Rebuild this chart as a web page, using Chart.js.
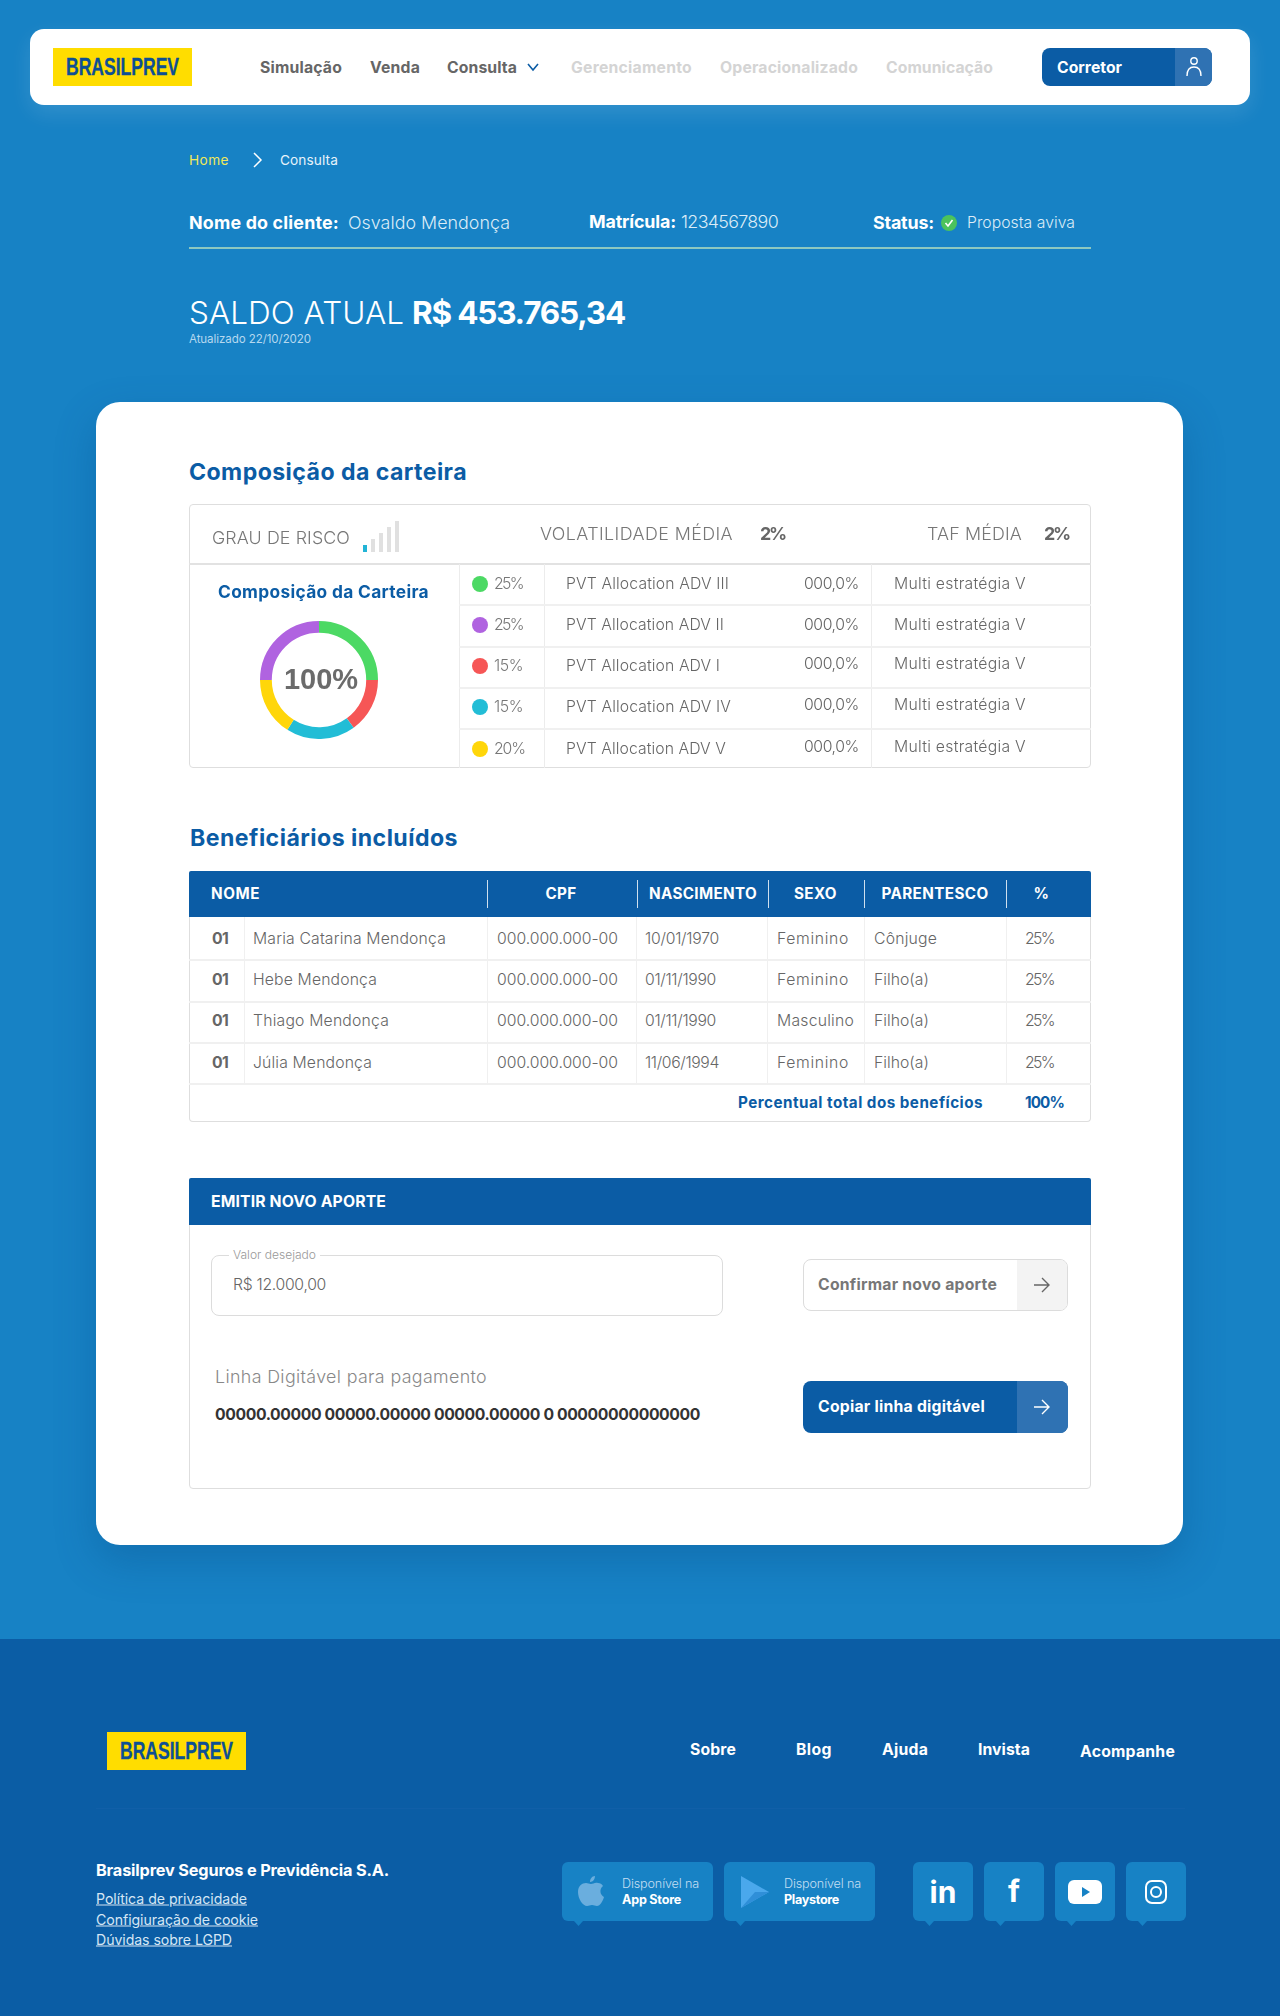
<!DOCTYPE html>
<html lang="pt-BR">
<head>
<meta charset="UTF-8">
<title>Brasilprev - Consulta</title>
<script src="https://cdn.jsdelivr.net/npm/chart.js"></script>
<style>
    html, body { margin: 0; padding: 0; }
    body {
        position: relative;
        width: 1280px;
        height: 2016px;
        overflow: hidden;
        background: #1782c5;
        font-family: Inter, "Noto Sans", sans-serif;
        color: #666;
    }
    .box { position: absolute; box-sizing: border-box; }
    .t { position: absolute; white-space: nowrap; transform: translateY(-50%); line-height: 1.2; }
    .c { transform: translate(-50%, -50%); }
    .b { font-weight: 700; }
    .card { background: #fff; }
    svg { position: absolute; overflow: visible; }
</style>
</head>
<body>
<div class="box" style="left:0;top:1639px;width:1280px;height:377px;background:#0b5da5"></div>
<div class="box card" style="left:30px;top:29px;width:1220px;height:76px;border-radius:14px;box-shadow:0 8px 22px rgba(255,255,255,.12)"></div>
<div class="box card" style="left:96px;top:402px;width:1087px;height:1143px;border-radius:24px;box-shadow:0 16px 40px rgba(8,70,130,.3)"></div>

<div class="box" style="left:260px;top:621px;width:118px;height:118px">
    <canvas id="carteira" width="118" height="118"></canvas>
</div>

<script>
// table and text data
const allocationShares = ['25%', '25%', '15%', '15%', '20%'];
const allocationNames = ['PVT Allocation ADV III', 'PVT Allocation ADV II', 'PVT Allocation ADV I', 'PVT Allocation ADV IV', 'PVT Allocation ADV V'];
const allocationRates = ['000,0%', '000,0%', '000,0%', '000,0%', '000,0%'];
const allocationTypes = ['Multi estratégia V', 'Multi estratégia V', 'Multi estratégia V', 'Multi estratégia V', 'Multi estratégia V'];
const allocationColors = ['#4cd964', '#b063e0', '#f65656', '#22bdd6', '#ffd60a'];

// ring as it is drawn, clockwise from the top
const ringLabels = ['PVT Allocation ADV III', 'PVT Allocation ADV I', 'PVT Allocation ADV IV', 'PVT Allocation ADV V', 'PVT Allocation ADV II'];
const ringValues = [25, 15, 19, 16, 25];
const ringColors = ['#4cd964', '#f65656', '#22bdd6', '#ffd60a', '#b063e0'];

const benefNames = ['Maria Catarina Mendonça', 'Hebe Mendonça', 'Thiago Mendonça', 'Júlia Mendonça'];
const benefBirth = ['10/01/1970', '01/11/1990', '01/11/1990', '11/06/1994'];
const benefSex = ['Feminino', 'Feminino', 'Masculino', 'Feminino'];
const benefKin = ['Cônjuge', 'Filho(a)', 'Filho(a)', 'Filho(a)'];
const benefCpf = '000.000.000-00';
const benefPct = '25%';
const benefHeaders = ['CPF', 'NASCIMENTO', 'SEXO', 'PARENTESCO', '%'];

const blue = '#0b5ca5';

function box(x, y, w, h, style) {
    const d = document.createElement('div');
    d.className = 'box';
    d.style.cssText = `left:${x}px;top:${y}px;width:${w}px;height:${h}px;` + (style || '');
    document.body.appendChild(d);
    return d;
}

// places a text by left edge and vertical centre; fit = width wanted in the picture
function put(text, x, y, size, color, opts) {
    opts = opts || {};
    const s = document.createElement('span');
    s.className = 't' + (opts.bold ? ' b' : '') + (opts.center ? ' c' : '');
    s.textContent = text;
    // Inter runs narrower than the font of the picture, so fitted texts go a little bigger
    const px = opts.fit ? size * 1.05 : size;
    s.style.cssText = `left:${x}px;top:${y}px;font-size:${px}px;color:${color};` + (opts.style || '');
    document.body.appendChild(s);
    if (opts.fit) {
        const extra = (opts.fit - s.getBoundingClientRect().width) / text.length;
        s.style.letterSpacing = extra.toFixed(3) + 'px';
    }
    if (opts.right) {
        s.style.left = (x - s.getBoundingClientRect().width) + 'px';
    }
    return s;
}

function icon(x, y, w, h, inner) {
    const ns = 'http://www.w3.org/2000/svg';
    const g = document.createElementNS(ns, 'svg');
    g.setAttribute('viewBox', `0 0 ${w} ${h}`);
    g.setAttribute('width', w);
    g.setAttribute('height', h);
    g.style.left = x + 'px';
    g.style.top = y + 'px';
    g.innerHTML = inner;
    document.body.appendChild(g);
}

function logo(x, y) {
    box(x, y, 139, 38, 'background:#ffdd00');
    const s = put('BRASILPREV', x + 13, y + 19, 24, '#0d4f94', {
        bold: true,
        style: 'font-family:"Liberation Sans";-webkit-text-stroke:.3px #0d4f94;transform-origin:left center;'
    });
    s.style.transform = `translateY(-50%) scaleX(${(113 / s.getBoundingClientRect().width).toFixed(3)})`;
}

// header
logo(53, 48);
put('Simulação', 260, 68, 15, '#666', { bold: true, fit: 82 });
put('Venda', 370, 68, 15, '#666', { bold: true, fit: 50 });
put('Consulta', 447, 68, 15, '#666', { bold: true, fit: 70 });
icon(527, 63, 12, 8, '<path d="M1 1l5 6 5-6" fill="none" stroke="#0b5ca5" stroke-width="1.6"/>');
put('Gerenciamento', 571, 68, 15, '#d4d4d4', { bold: true, fit: 121 });
put('Operacionalizado', 720, 68, 15, '#d4d4d4', { bold: true, fit: 138 });
put('Comunicação', 886, 68, 15, '#d4d4d4', { bold: true, fit: 107 });
box(1042, 48, 170, 38, `background:${blue};border-radius:8px;overflow:hidden`);
box(1175, 48, 37, 38, 'background:#2f72b3;border-radius:0 8px 8px 0');
put('Corretor', 1057, 68, 15, '#fff', { bold: true, fit: 65 });
icon(1185, 56, 18, 22, '<circle cx="9" cy="5" r="3.2" fill="none" stroke="#fff" stroke-width="1.4"/><path d="M2 20c0-6 3-9 7-9s7 3 7 9" fill="none" stroke="#fff" stroke-width="1.4"/>');

put('Home', 189, 160, 13, '#f0e85a', { fit: 40 });
icon(253, 152, 9, 16, '<path d="M1 1l7 7-7 7" fill="none" stroke="#fff" stroke-width="1.5"/>');
put('Consulta', 280, 160, 13, '#e6f2fa', { fit: 58 });

put('Nome do cliente:', 189, 223, 17, '#fff', { bold: true, fit: 150 });
put('Osvaldo Mendonça', 348, 223, 17, '#dcecf7', { fit: 162, style: 'font-weight:300;' });
put('Matrícula:', 589, 222, 17, '#fff', { bold: true, fit: 87 });
put('1234567890', 681, 222, 17, '#dcecf7', { fit: 97, style: 'font-weight:300;' });
put('Status:', 873, 223, 17, '#fff', { bold: true, fit: 61 });
icon(941, 215, 16, 16, '<circle cx="8" cy="8" r="8" fill="#4cc35c"/><path d="M4.5 8l2.5 3 4.5-6" fill="none" stroke="#fff" stroke-width="1.6"/>');
put('Proposta aviva', 967, 223, 15, '#dcecf7', { fit: 108, style: 'font-weight:300;' });
box(189, 247, 902, 1.5, 'background:#8dc8c0');

put('SALDO ATUAL', 189, 313, 30, '#fff', { fit: 215, style: 'font-weight:300;' });
put('R$ 453.765,34', 412, 313, 30, '#fff', { bold: true, fit: 213 });
put('Atualizado 22/10/2020', 189, 339.5, 11, '#b5d8ef', { fit: 122 });

// composicao da carteira
put('Composição da carteira', 189, 473, 22, blue, { bold: true, fit: 278 });
box(189, 504, 902, 264, 'border:1.5px solid #dedede;border-radius:4px');
box(189, 563, 902, 1.5, 'background:#e2e2e2');
[459, 544, 871].forEach(x => box(x, 564, 1, 204, 'background:#ececec'));
[604, 646, 687, 728].forEach(y => box(459, y, 632, 1.5, 'background:#f0f0f0'));

put('GRAU DE RISCO', 212, 538, 17, '#777', { fit: 138, style: 'font-weight:300;' });
box(363, 545, 4, 7, 'background:#22b4d6');
box(371, 539, 4, 13, 'background:#e0e0e0');
box(379, 533, 4, 19, 'background:#e0e0e0');
box(387, 527, 4, 25, 'background:#e0e0e0');
box(395, 521, 4, 31, 'background:#e0e0e0');
put('VOLATILIDADE MÉDIA', 540, 534, 17, '#777', { fit: 193, style: 'font-weight:300;' });
put('2%', 760, 534, 17, '#666', { bold: true, fit: 25 });
put('TAF MÉDIA', 927, 534, 17, '#777', { fit: 95, style: 'font-weight:300;' });
put('2%', 1044, 534, 17, '#666', { bold: true, fit: 25 });
put('Composição da Carteira', 218, 592, 16.5, blue, { bold: true, fit: 211 });
put('100%', 321, 679, 29, '#6b6b6b', { bold: true, center: true, style: 'font-family:"Liberation Sans";' });

const rowY = [584, 625, 666, 707, 749];
const rateY = [584, 625, 664, 705, 747];
allocationNames.forEach((name, i) => {
    box(472, rowY[i] - 8, 16, 16, `background:${allocationColors[i]};border-radius:50%`);
    put(allocationShares[i], 494, rowY[i], 15, '#777', { fit: i === 4 ? 31 : 29, style: 'font-weight:300;' });
    put(name, 566, rowY[i], 15, '#666', { fit: [163, 158, 154, 165, 160][i], style: 'font-weight:300;' });
    put(allocationRates[i], 859, rateY[i], 15, '#666', { fit: 55, right: true, style: 'font-weight:300;' });
    put(allocationTypes[i], 894, rateY[i], 15, '#666', { fit: 132, style: 'font-weight:300;' });
});

// beneficiarios
put('Beneficiários incluídos', 190, 839, 22, blue, { bold: true, fit: 268 });
box(189, 871, 902, 251, 'border:1.5px solid #dedede;border-top:0;border-radius:4px');
box(189, 871, 902, 46, `background:${blue};border-radius:2px 2px 0 0`);
[487, 637, 768, 864, 1006].forEach(x => box(x, 880, 1, 28, 'background:#cfe0ef'));
[244, 487, 636, 767, 864, 1006].forEach(x => box(x, 917, 1, 166, 'background:#f0f0f0'));
[959, 1001, 1042, 1083].forEach(y => box(189, y, 902, 1.5, 'background:#f0f0f0'));
put('NOME', 211, 894, 14.5, '#fff', { bold: true, fit: 49 });
[561, 703, 815.5, 935, 1040].forEach((x, i) => {
    put(benefHeaders[i], x, 894, 14.5, '#fff', { bold: true, center: true, fit: [31, 108, 43, 107, 13][i] });
});
const benefY = [939, 980, 1021, 1063];
benefNames.forEach((name, i) => {
    put('01', 212, benefY[i], 15, '#666', { bold: true, fit: 16 });
    put(name, 253, benefY[i], 15, '#666', { fit: [193, 124, 136, 119][i], style: 'font-weight:300;' });
    put(benefCpf, 497, benefY[i], 15, '#666', { fit: 121, style: 'font-weight:300;' });
    put(benefBirth[i], 645, benefY[i], 15, '#666', { fit: i === 1 || i === 2 ? 71 : 74, style: 'font-weight:300;' });
    put(benefSex[i], 777, benefY[i], 15, '#666', { fit: i === 2 ? 77 : 72, style: 'font-weight:300;' });
    put(benefKin[i], 874, benefY[i], 15, '#666', { fit: i === 0 ? 63 : 55, style: 'font-weight:300;' });
    put(benefPct, 1025, benefY[i], 15, '#666', { fit: 29, style: 'font-weight:300;' });
});
put('Percentual total dos benefícios', 738, 1103, 14.5, blue, { bold: true, fit: 245 });
put('100%', 1025, 1103, 14.5, blue, { bold: true, fit: 39 });

// novo aporte
box(189, 1178, 902, 311, 'border:1.5px solid #dedede;border-radius:4px');
box(189, 1178, 902, 47, `background:${blue};border-radius:2px 2px 0 0`);
put('EMITIR NOVO APORTE', 211, 1202, 15, '#fff', { bold: true, fit: 175 });
box(211, 1255, 512, 61, 'border:1.5px solid #dcdcdc;border-radius:8px');
box(229, 1250, 91, 10, 'background:#fff');
put('Valor desejado', 233, 1255, 11.5, '#999', { fit: 83, style: 'font-weight:300;' });
put('R$ 12.000,00', 233, 1285, 15, '#666', { fit: 93, style: 'font-weight:300;' });

box(803, 1259, 265, 52, 'border:1.5px solid #dcdcdc;border-radius:8px');
box(1017, 1260, 50, 50, 'background:#f3f3f3;border-radius:0 7px 7px 0');
put('Confirmar novo aporte', 818, 1285, 15, '#777', { bold: true, fit: 179 });
icon(1034, 1277, 16, 16, '<path d="M0 8h15M8 1l7 7-7 7" fill="none" stroke="#666" stroke-width="1.4"/>');

put('Linha Digitável para pagamento', 215, 1377, 17, '#888', { fit: 272, style: 'font-weight:300;' });
put('00000.00000 00000.00000 00000.00000 0 00000000000000', 215, 1415, 15, '#333', { bold: true, fit: 485 });

box(803, 1381, 265, 52, `background:${blue};border-radius:8px`);
box(1017, 1381, 51, 52, 'background:#2f72b3;border-radius:0 8px 8px 0');
put('Copiar linha digitável', 818, 1407, 15, '#fff', { bold: true, fit: 167 });
icon(1034, 1399, 16, 16, '<path d="M0 8h15M8 1l7 7-7 7" fill="none" stroke="#fff" stroke-width="1.4"/>');

// rodape
logo(107, 1732);
put('Sobre', 690, 1750, 15, '#fff', { bold: true, fit: 46 });
put('Blog', 796, 1750, 15, '#fff', { bold: true, fit: 36 });
put('Ajuda', 882, 1750, 15, '#fff', { bold: true, fit: 46 });
put('Invista', 978, 1750, 15, '#fff', { bold: true, fit: 52 });
put('Acompanhe', 1080, 1752, 15, '#fff', { bold: true, fit: 95 });
box(96, 1808, 1089, 1, 'background:#115fa8');
put('Brasilprev Seguros e Previdência S.A.', 96, 1871, 15.5, '#fff', { bold: true, fit: 293 });
put('Política de privacidade', 96, 1898, 13.5, '#d5e6f4', { fit: 151, style: 'text-decoration:underline;' });
put('Configiuração de cookie', 96, 1919, 13.5, '#d5e6f4', { fit: 162, style: 'text-decoration:underline;' });
put('Dúvidas sobre LGPD', 96, 1939, 13.5, '#d5e6f4', { fit: 136, style: 'text-decoration:underline;' });

function bubble(x, w) {
    box(x, 1862, w, 59, 'background:#1782c5;border-radius:6px');
    icon(x + 12, 1921, 9, 5, '<path d="M0 0h9L4.5 5z" fill="#1782c5"/>');
}
bubble(562, 151);
bubble(724, 151);
icon(578, 1875, 26, 32, '<path d="M17 1c0 3-2 6-5 6 0-3 2-6 5-6zM13 9c2 0 4-2 7-1 2 0 4 1 5 3-4 3-3 9 1 11-1 4-4 9-7 9-2 0-3-1-5-1s-3 1-5 1C5 31 0 24 0 17 0 11 4 8 8 8c2 0 3 1 5 1z" fill="#6aaede"/>');
put('Disponível na', 622, 1884, 12, '#c3def2', { fit: 77, style: 'font-weight:300;' });
put('App Store', 622, 1900, 12, '#fff', { bold: true, fit: 59 });
icon(741, 1876, 30, 32, '<path d="M0 0l28 16L0 32z" fill="#4aa8ec"/><path d="M14 16L0 32l28-16z" fill="#2f8fd8"/>');
put('Disponível na', 784, 1884, 12, '#c3def2', { fit: 77, style: 'font-weight:300;' });
put('Playstore', 784, 1900, 12, '#fff', { bold: true, fit: 55 });

[913, 984, 1055, 1126].forEach(x => bubble(x, 60));
put('in', 943, 1892, 30, '#fff', { bold: true, center: true });
put('f', 1014, 1891, 30, '#fff', { bold: true, center: true });
icon(1068, 1880, 34, 24, '<rect width="34" height="24" rx="6" fill="#fff"/><path d="M14 7l8 5-8 5z" fill="#1782c5"/>');
icon(1145, 1880, 22, 24, '<rect x="1" y="1" width="20" height="22" rx="6" fill="none" stroke="#fff" stroke-width="2"/><circle cx="11" cy="12" r="5" fill="none" stroke="#fff" stroke-width="2"/>');

new Chart(document.getElementById('carteira'), {
    type: 'doughnut',
    data: {
        labels: ringLabels,
        datasets: [{ data: ringValues, backgroundColor: ringColors, borderWidth: 0 }]
    },
    options: {
        responsive: false,
        animation: false,
        cutout: '80%',
        layout: { padding: 0 },
        plugins: { legend: { display: false }, tooltip: { enabled: true } }
    }
});
</script>
</body>
</html>
